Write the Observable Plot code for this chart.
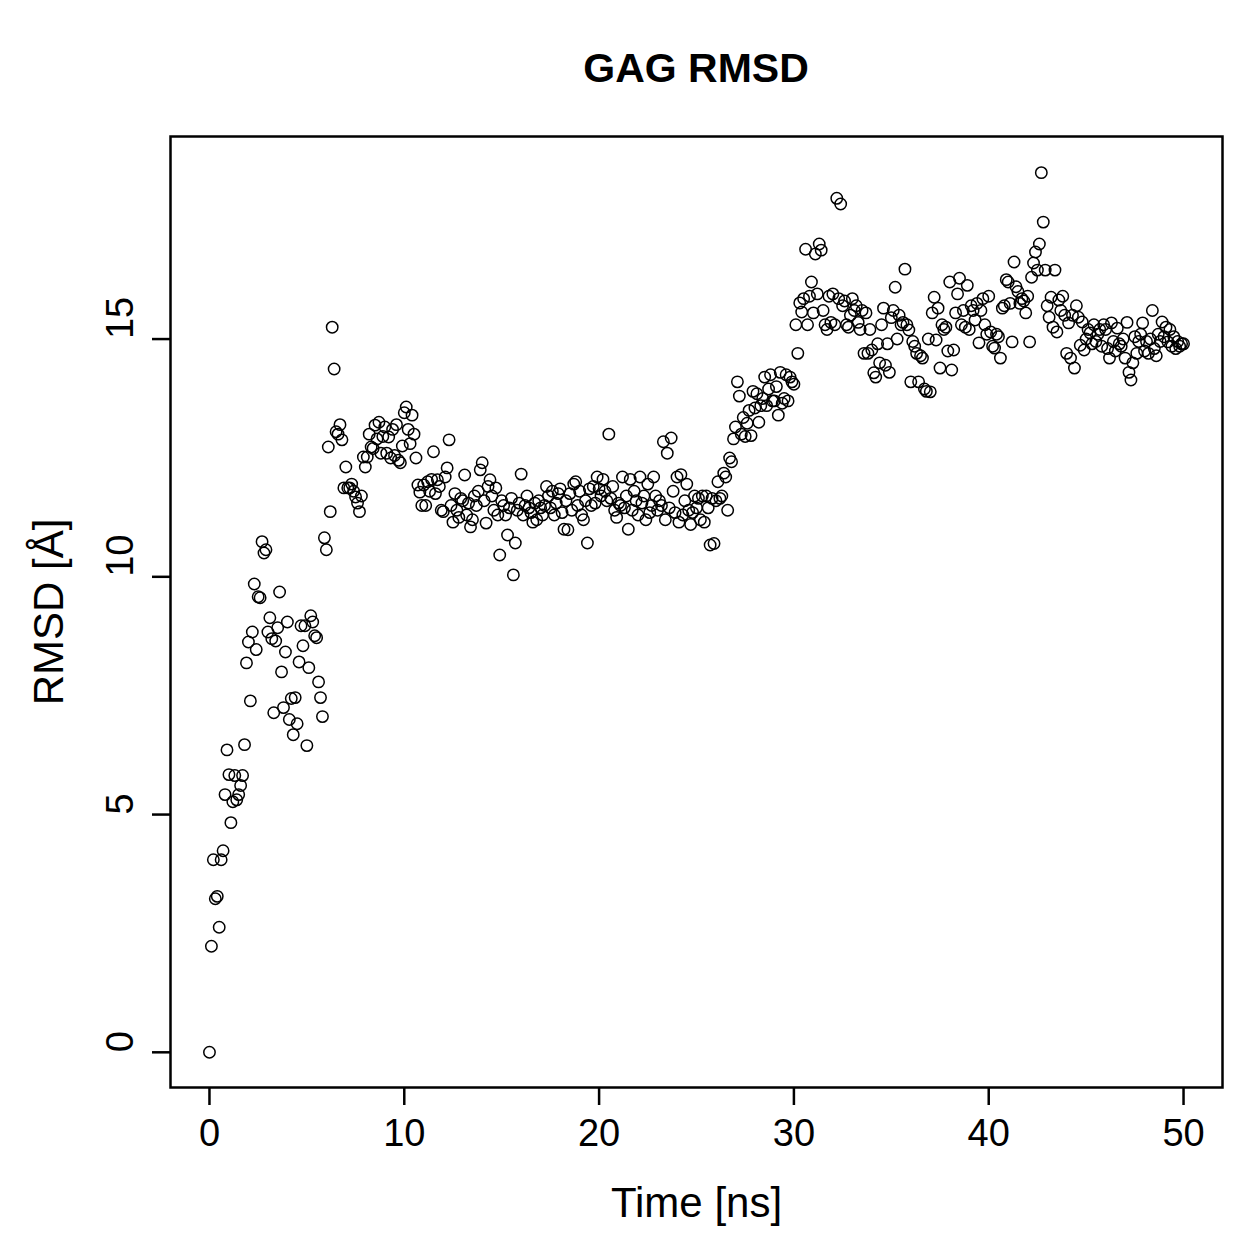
<!DOCTYPE html>
<html>
<head>
<meta charset="utf-8">
<script src="https://cdn.jsdelivr.net/npm/d3@7"></script>
<script src="https://cdn.jsdelivr.net/npm/@observablehq/plot@0.6"></script>
<style>
  html, body { margin: 0; padding: 0; background: white; }
  #title { height: 110px; box-sizing: border-box; padding-left: 170px; width: 1222px;
           text-align: center; font-family: "Liberation Sans", Arial, sans-serif;
           font-weight: bold; font-size: 41px; line-height: 41px; padding-top: 48px; color: black; }
</style>
</head>
<body>
<div id="title">GAG RMSD</div>
<div id="chart"></div>
<script>
const chartTitle = "GAG RMSD";
const xLabel = "Time [ns]";
const yLabel = "RMSD [Å]";
const timeStep = 0.1; // ns between frames
const xTicks = [0, 10, 20, 30, 40, 50];
const yTicks = [0, 5, 10, 15];
// RMSD values (Å), one per 0.1 ns frame
const rmsd = [
  0, 2.23, 4.05, 3.23, 3.28, 2.63, 4.05, 4.24, 5.42, 6.36,
  5.84, 4.83, 5.27, 5.82, 5.31, 5.42, 5.61, 5.82, 6.47, 8.19,
  8.63, 7.39, 8.84, 9.85, 8.47, 9.58, 9.56, 10.74, 10.5, 10.57,
  8.84, 9.14, 8.7, 7.14, 8.65, 8.93, 9.68, 8.0, 7.25, 8.42,
  9.05, 7.0, 7.44, 6.68, 7.46, 6.91, 8.21, 8.97, 8.55, 8.97,
  6.45, 8.09, 9.18, 9.05, 8.76, 8.72, 7.79, 7.46, 7.06, 10.82,
  10.57, 12.73, 11.37, 15.25, 14.37, 13.05, 13.0, 13.2, 12.88, 11.87,
  12.31, 11.87, 11.87, 11.95, 11.8, 11.68, 11.55, 11.37, 11.7, 12.52,
  12.31, 12.52, 13.0, 12.73, 12.7, 13.19, 12.9, 13.25, 12.6, 12.95,
  13.15, 12.6, 12.94, 12.5, 13.1, 12.55, 13.2, 12.45, 12.4, 12.75,
  13.45, 13.57, 13.1, 12.8, 13.4, 13.0, 12.5, 11.93, 11.78, 11.5,
  11.93, 11.5, 12.0, 11.8, 12.05, 12.63, 11.75, 12.04, 11.9, 11.4,
  11.37, 12.1, 12.29, 12.88, 11.5, 11.15, 11.75, 11.4, 11.25, 11.65,
  11.6, 12.14, 11.3, 11.55, 11.05, 11.2, 11.7, 11.5, 11.8, 12.25,
  12.4, 11.6, 11.13, 11.9, 12.04, 11.7, 11.4, 11.87, 11.3, 10.46,
  11.6, 11.5, 11.3, 10.88, 11.45, 11.65, 10.04, 10.71, 11.4, 11.55,
  12.16, 11.3, 11.5, 11.7, 11.45, 11.35, 11.15, 11.55, 11.2, 11.6,
  11.45, 11.3, 11.5, 11.9, 11.7, 11.45, 11.8, 11.3, 11.55, 11.75,
  11.85, 11.35, 11.0, 11.6, 10.99, 11.75, 11.4, 11.95, 12.0, 11.5,
  11.8, 11.3, 11.2, 11.6, 10.71, 11.85, 11.5, 11.9, 11.55, 12.1,
  11.85, 11.7, 12.05, 11.8, 11.6, 13.0, 11.65, 11.9, 11.4, 11.25,
  11.55, 11.5, 12.1, 11.45, 11.7, 11.0, 12.05, 11.4, 11.8, 11.6,
  11.3, 12.1, 11.55, 11.7, 11.2, 11.95, 11.35, 11.5, 12.1, 11.7,
  11.4, 11.6, 11.5, 12.84, 11.2, 12.6, 11.45, 12.92, 11.8, 11.35,
  12.1, 11.15, 12.15, 11.3, 11.6, 11.95, 11.4, 11.1, 11.35, 11.7,
  11.45, 11.65, 11.2, 11.7, 11.15, 11.7, 11.45, 10.67, 11.65, 10.7,
  11.6, 12.0, 11.65, 11.7, 12.18, 12.1, 11.4, 12.5, 12.42, 12.9,
  13.15, 14.1, 13.8, 13.0, 13.35, 12.95, 13.23, 13.5, 12.97, 13.9,
  13.55, 13.85, 13.25, 13.6, 13.75, 14.2, 13.6, 13.95, 14.25, 13.7,
  13.7, 14.0, 13.4, 14.3, 13.65, 13.75, 14.25, 13.7, 14.2, 14.1,
  14.05, 15.3, 14.7, 15.76, 15.57, 15.85, 16.89, 15.3, 15.9, 16.2,
  15.55, 16.79, 15.95, 17.0, 16.87, 15.6, 15.3, 15.2, 15.9, 15.35,
  15.95, 15.3, 17.96, 15.85, 17.84, 15.7, 15.8, 15.3, 15.25, 15.5,
  15.85, 15.6, 15.7, 15.35, 15.2, 15.6, 14.7, 15.55, 14.7, 15.2,
  14.77, 14.29, 14.2, 14.9, 14.5, 15.3, 15.65, 14.45, 14.9, 14.3,
  15.45, 15.6, 16.09, 15.0, 15.5, 15.3, 15.35, 16.47, 15.3, 15.19,
  14.1, 14.95, 14.85, 14.7, 14.1, 14.65, 14.6, 13.95, 13.9, 15.0,
  13.89, 15.55, 15.88, 14.98, 15.65, 14.39, 15.3, 15.2, 15.25, 14.75,
  16.2, 14.35, 14.77, 15.55, 15.95, 16.28, 15.3, 15.6, 15.25, 16.13,
  15.2, 15.7, 15.6, 15.4, 15.75, 14.92, 15.6, 15.85, 15.3, 15.1,
  15.9, 15.15, 14.85, 14.81, 15.1, 15.05, 14.6, 15.65, 15.7, 16.25,
  16.2, 15.75, 14.94, 16.62, 16.1, 16.0, 15.75, 15.85, 15.8, 15.55,
  15.9, 14.94, 16.3, 16.6, 16.83, 16.45, 17.0, 18.5, 17.46, 16.45,
  15.7, 15.46, 15.88, 15.25, 16.45, 15.15, 15.82, 15.6, 15.9, 15.5,
  14.7, 15.34, 14.6, 15.5, 14.39, 15.7, 15.46, 14.87, 15.36, 14.77,
  15.0, 15.2, 15.13, 14.9, 15.3, 14.95, 15.1, 15.2, 14.85, 15.3,
  15.2, 14.8, 14.6, 15.34, 14.95, 14.75, 15.23, 14.9, 14.85, 15.0,
  14.6, 15.35, 14.3, 14.14, 14.5, 15.05, 14.7, 14.95, 15.1, 15.34,
  14.75, 14.95, 14.7, 15.0, 15.6, 14.8, 14.65, 15.1, 14.95, 15.36,
  15.05, 15.25, 14.94, 15.2, 14.85, 15.05, 14.8, 14.95, 14.85, 14.9,
  14.9
];

const data = rmsd.map((v, i) => ({time: +(i * timeStep).toFixed(1), rmsd: v}));
document.getElementById("title").textContent = chartTitle;

const fontFamily = "'Liberation Sans', Arial, Helvetica, sans-serif";
const chart = Plot.plot({
  width: 1259,
  height: 1149,
  marginLeft: 170,
  marginRight: 37,
  marginTop: 26,
  marginBottom: 172,
  x: {domain: [-2, 52]},
  y: {domain: [-0.74, 19.26]},
  style: {fontFamily, fontSize: "38px", background: "white", color: "black"},
  marks: [
    Plot.frame({stroke: "black", strokeWidth: 2.5}),
    Plot.axisX({ticks: xTicks, tickSize: 18, tickPadding: 14, strokeWidth: 2.5,
      fontSize: 38, label: null}),
    Plot.axisX({ticks: [], label: xLabel, labelAnchor: "center", labelArrow: "none",
      labelOffset: 129, fontSize: 42}),
    Plot.axisY({ticks: yTicks, tickSize: 18, tickFormat: () => "", strokeWidth: 2.5, label: null}),
    Plot.axisY({ticks: [], label: yLabel, labelAnchor: "center", labelArrow: "none",
      labelOffset: 137, fontSize: 42}),
    Plot.text(yTicks, {y: d => d, text: d => String(d), frameAnchor: "left", dx: -50,
      rotate: -90, fontSize: 38}),
    Plot.dot(data, {x: "time", y: "rmsd", r: 5.7, stroke: "black", strokeWidth: 1.5, fill: "none"})
  ]
});
document.getElementById("chart").appendChild(chart);
</script>
</body>
</html>
